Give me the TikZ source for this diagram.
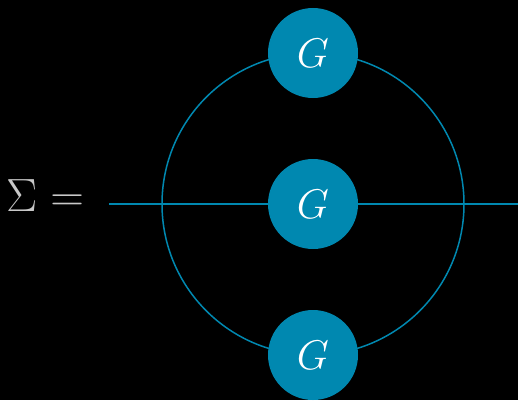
\documentclass[tikz,border=0pt]{standalone}
\usepackage{graphicx}
\begin{document}
\begin{tikzpicture}[x=1pt,y=1pt,
  prop/.style={draw=teal0,line width=1.5pt},
  gnode/.style={circle,fill=teal0,minimum size=90pt,inner sep=0pt,text=white,font=\fontsize{20}{24}\selectfont}]
\definecolor{teal0}{RGB}{0,136,176}
\fill[black] (0,0) rectangle (518,400);
\useasboundingbox (0,0) rectangle (518,400);
\coordinate (c) at (313,196);
\coordinate (l) at (109,196);
\coordinate (r) at (518,196);
\draw[prop] (c) circle (151);
\draw[prop] (l) -- (r);
\node[gnode] (g1) at (313,347) {\scalebox{2}{$G$}};
\node[gnode] (g2) at (313,196) {\scalebox{2}{$G$}};
\node[gnode] (g3) at (313,45) {\scalebox{2}{$G$}};
\node[text={rgb,255:red,200;green,200;blue,200},font=\fontsize{20}{24}\selectfont,anchor=west,inner sep=0pt] (s) at (6,204) {\scalebox{2.25}{$\Sigma=$}};
\end{tikzpicture}
\end{document}
